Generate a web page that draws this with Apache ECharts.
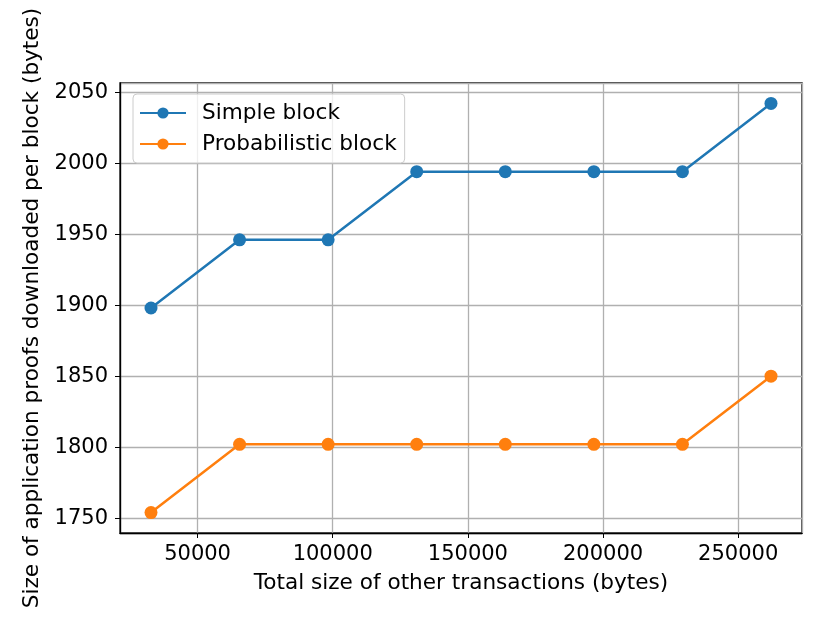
<!DOCTYPE html>
<html style="height: 100%">
<head>
<meta charset="utf-8">
<script src="https://cdn.jsdelivr.net/npm/echarts@6/dist/echarts.min.js"></script>
</head>
<body style="height: 100%; margin: 0; width: 100%; background: #fff;">
<div id="container" style="height: 623px; width: 830px;"></div>
<script type="text/javascript">
// data
var txSizes = [32768, 65536, 98304, 131072, 163840, 196608, 229376, 262144];
var simpleBlock = [1898, 1946, 1946, 1994, 1994, 1994, 1994, 2042];
var probBlock = [1754, 1802, 1802, 1802, 1802, 1802, 1802, 1850];
var seriesNames = ['Simple block', 'Probabilistic block'];

function pairs(xs, ys) {
    return xs.map(function (x, i) { return [x, ys[i]]; });
}

var font = 'DejaVu Sans';
var fs = 21;      // tick labels
var fsName = 21.6; // axis titles, legend
var myChart = echarts.init(document.getElementById('container'));

var option = {
    animation: false,
    backgroundColor: '#fff',
    textStyle: { fontFamily: font },
    grid: {
        left: 120, right: 28, top: 83, bottom: 90,
        show: true, borderColor: '#000', borderWidth: 1.3,
        containLabel: false
    },
    legend: {
        orient: 'vertical',
        left: 133, top: 94,
        padding: [8, 8, 8, 6],
        itemGap: 9,
        itemWidth: 46, itemHeight: 14,
        backgroundColor: 'rgba(255,255,255,0.8)',
        borderColor: '#cccccc', borderWidth: 1, borderRadius: 4,
        textStyle: { fontSize: fsName, color: '#000', fontFamily: font, padding: [0, 0, 0, 11] },
        data: seriesNames
    },
    xAxis: {
        type: 'value',
        min: 21299, max: 273613,
        name: 'Total size of other transactions (bytes)',
        nameLocation: 'middle', nameGap: 39,
        nameTextStyle: { fontSize: fsName, color: '#000', fontFamily: font },
        axisLine: { show: true, lineStyle: { color: '#000', width: 1.3 } },
        axisTick: { show: true, length: 5, lineStyle: { color: '#000' } },
        axisLabel: {
            fontSize: fs, color: '#000', margin: 11,
            showMinLabel: false, showMaxLabel: false,
            formatter: function (v) { return String(v); }
        },
        splitLine: { show: true, lineStyle: { color: '#b0b0b0', width: 1.3 } }
    },
    yAxis: {
        type: 'value',
        min: 1739.6, max: 2056.4,
        name: 'Size of application proofs downloaded per block (bytes)',
        nameLocation: 'middle', nameGap: 75,
        nameTextStyle: { fontSize: fsName, color: '#000', fontFamily: font },
        axisLine: { show: true, lineStyle: { color: '#000', width: 1.3 } },
        axisTick: { show: true, length: 5, lineStyle: { color: '#000' } },
        axisLabel: {
            fontSize: fs, color: '#000', margin: 12,
            showMinLabel: false, showMaxLabel: false,
            formatter: function (v) { return String(v); }
        },
        splitLine: { show: true, lineStyle: { color: '#b0b0b0', width: 1.3 } }
    },
    series: [
        {
            name: seriesNames[0],
            type: 'line',
            data: pairs(txSizes, simpleBlock),
            symbol: 'circle', symbolSize: 13,
            itemStyle: { color: '#1f77b4' },
            lineStyle: { color: '#1f77b4', width: 2.5 }
        },
        {
            name: seriesNames[1],
            type: 'line',
            data: pairs(txSizes, probBlock),
            symbol: 'circle', symbolSize: 13,
            itemStyle: { color: '#ff7f0e' },
            lineStyle: { color: '#ff7f0e', width: 2.5 }
        }
    ]
};

myChart.setOption(option);
</script>
</body>
</html>
